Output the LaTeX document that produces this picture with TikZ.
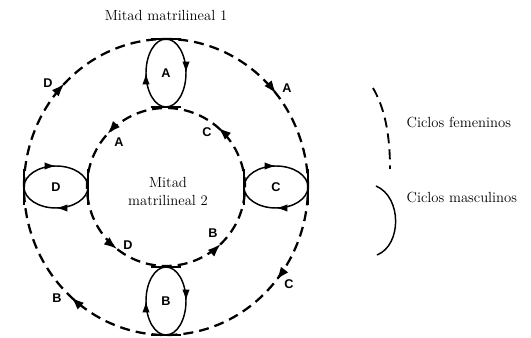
\documentclass[tikz,border=0pt]{standalone}
\usepackage{fontspec}
\newfontfamily\lettersf{Liberation Sans}
\usetikzlibrary{arrows.meta,decorations.markings}

\begin{document}
\begin{tikzpicture}[x=0.75pt,y=0.75pt,
	ring/.style={line width=1.7pt, dash pattern=on 7.5pt off 4.5pt},
	cycle/.style={line width=1.1pt},
	tick/.style={line width=1.5pt},
	letter/.style={font=\lettersf\bfseries\fontsize{9.5}{11}\selectfont, inner sep=1pt},
	caption/.style={font=\fontsize{11}{13.5}\selectfont},
	ringarrows/.style n args={4}{postaction={decorate}, decoration={markings,
		mark=at position #1 with {\arrow{Latex[length=10pt,width=7pt]}},
		mark=at position #2 with {\arrow{Latex[length=10pt,width=7pt]}},
		mark=at position #3 with {\arrow{Latex[length=10pt,width=7pt]}},
		mark=at position #4 with {\arrow{Latex[length=10pt,width=7pt]}}}},
	cyclearrows/.style={postaction={decorate}, decoration={markings,
		mark=at position 0.25 with {\arrow{Latex[length=8.5pt,width=5.5pt]}},
		mark=at position 0.75 with {\arrow{Latex[length=8.5pt,width=5.5pt]}}}}]
	\useasboundingbox (-166,-151) rectangle (365,187);

	% the two halves
	\draw[ring, ringarrows={0.125}{0.39}{0.61}{0.865}] (-142,0) arc[start angle=180, end angle=-180, x radius=142, y radius=148];
	\draw[ring, ringarrows={0.136}{0.383}{0.644}{0.872}] (79,0) arc[start angle=0, end angle=360, radius=79];

	% exchange cycles between the halves
	\coordinate (cA) at (0,114);
	\coordinate (cB) at (0,-114);
	\coordinate (cC) at (110,0);
	\coordinate (cD) at (-110,0);
	\draw[cycle, cyclearrows] (0,80) arc[start angle=270, end angle=-90, x radius=20, y radius=34];
	\draw[cycle, cyclearrows] (0,-148) arc[start angle=270, end angle=-90, x radius=20, y radius=34];
	\draw[cycle, cyclearrows] (142,0) arc[start angle=0, end angle=-360, x radius=32, y radius=21];
	\draw[cycle, cyclearrows] (-78,0) arc[start angle=0, end angle=-360, x radius=32, y radius=21];
	\draw[tick] (-15,148) -- (15,148);
	\draw[tick] (-15,80) -- (15,80);
	\draw[tick] (-15,-80) -- (15,-80);
	\draw[tick] (-15,-148) -- (15,-148);
	\draw[tick] (-142,-18) -- (-142,18);
	\draw[tick] (-78,-18) -- (-78,18);
	\draw[tick] (78,-18) -- (78,18);
	\draw[tick] (142,-18) -- (142,18);
	\node[letter] (lA) at (cA) {A};
	\node[letter] (lB) at (cB) {B};
	\node[letter] (lC) at (cC) {C};
	\node[letter] (lD) at (cD) {D};

	% letters on the outer half
	\node[letter] (oD) at (-118,104) {D};
	\node[letter] (oA) at (121,99) {A};
	\node[letter] (oC) at (123,-97) {C};
	\node[letter] (oB) at (-109,-111) {B};

	% letters on the inner half
	\node[letter] (iC) at (41,55) {C};
	\node[letter] (iA) at (-47,45) {A};
	\node[letter] (iD) at (-38,-58) {D};
	\node[letter] (iB) at (47,-46) {B};

	\node[caption] (mitad1) at (0,172) {Mitad matrilineal 1};
	\node[caption, align=center, inner sep=0pt] (mitad2) at (2,-4) {Mitad\\matrilineal 2};

	% key
	\draw[ring, line width=1.4pt] (207,99) .. controls (218,80) and (224,55) .. (224,18);
	\draw[line width=1.1pt] (210,1) .. controls (236,-10) and (236,-58) .. (211,-68);
	\node[caption, anchor=west] (fem) at (236,65) {Ciclos femeninos};
	\node[caption, anchor=west] (masc) at (236,-10) {Ciclos masculinos};
\end{tikzpicture}
\end{document}
